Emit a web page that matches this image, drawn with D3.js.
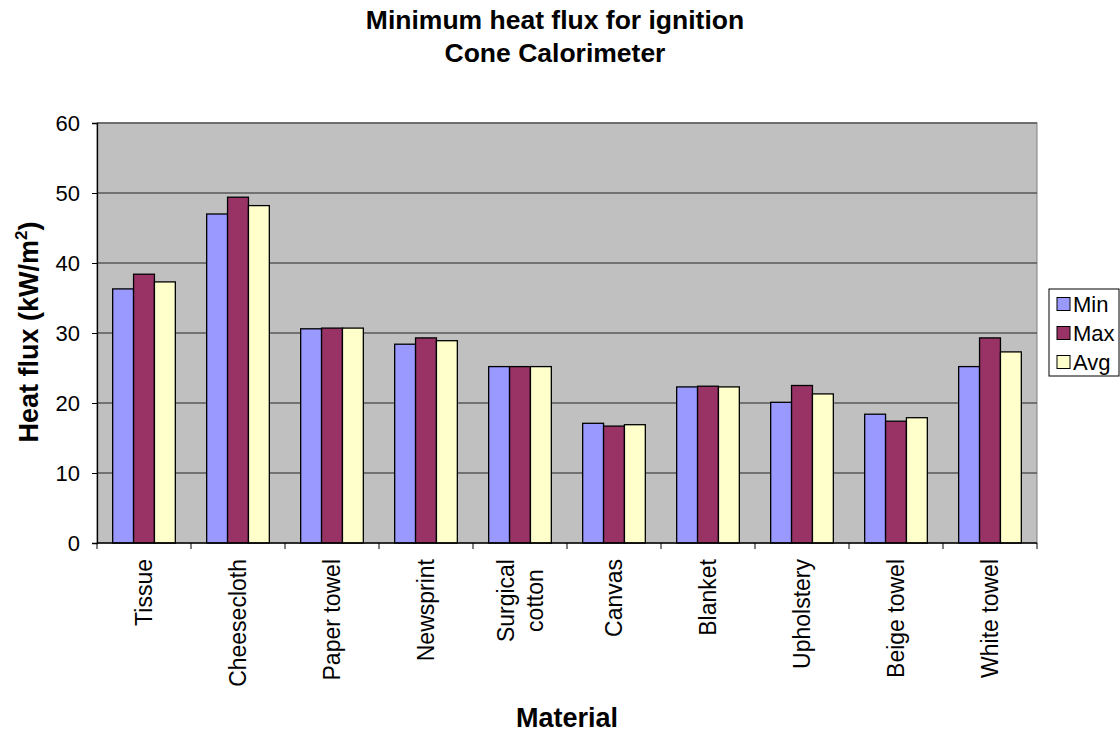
<!DOCTYPE html>
<html><head><meta charset="utf-8">
<script src="https://cdn.jsdelivr.net/npm/d3@7"></script>
<style>body{margin:0;background:#fff;} text{font-family:Arial,"Liberation Sans",sans-serif;}</style>
</head><body><svg id="c" width="1120" height="734"></svg>
<script>
const categories = ["Tissue","Cheesecloth","Paper towel","Newsprint","Surgical\ncotton","Canvas","Blanket","Upholstery","Beige towel","White towel"];
const seriesNames = ["Min","Max","Avg"];
const minVals = [36.3,47.0,30.6,28.4,25.2,17.1,22.3,20.1,18.4,25.2];
const maxVals = [38.4,49.4,30.7,29.3,25.2,16.7,22.4,22.5,17.4,29.3];
const avgVals = [37.3,48.2,30.7,28.9,25.2,16.9,22.3,21.3,17.9,27.3];
const yTicks = [0,10,20,30,40,50,60];
const colors = ["#9999FF","#993366","#FFFFCC"];
const series = [minVals,maxVals,avgVals];

const svg = d3.select("#c");
const L=97,R=1037,T=123,B=543;
const x = d3.scaleBand().domain(categories).range([L,R]);
const bw = x.bandwidth()/4.5;
const xs = d3.scaleBand().domain(seriesNames).range([0,3*bw]);
const y = d3.scaleLinear().domain([0,60]).range([B,T]);

svg.append("rect").attr("x",L).attr("y",T).attr("width",R-L).attr("height",B-T).attr("fill","#C0C0C0").attr("stroke","#808080").attr("stroke-width",1);
svg.append("g").selectAll("line").data(yTicks.slice(1)).join("line")
 .attr("x1",L).attr("x2",R).attr("y1",d=>y(d)).attr("y2",d=>y(d)).attr("stroke","#595959").attr("stroke-width",1.3);

categories.forEach((c,i)=>{
  series.forEach((s,j)=>{
    svg.append("rect").attr("x",x(c)+0.75*bw+xs(seriesNames[j])).attr("y",y(s[i])).attr("width",xs.bandwidth()).attr("height",y(0)-y(s[i]))
      .attr("fill",colors[j]).attr("stroke","#000").attr("stroke-width",1.3);
  });
});

// y axis
const ya = svg.append("g").attr("transform",`translate(${L},0)`).call(d3.axisLeft(y).tickValues(yTicks).tickSize(5).tickPadding(12));
ya.select(".domain").attr("stroke","#000").attr("stroke-width",1.3);
ya.selectAll("text").attr("font-size",22).attr("fill","#000").style("font-family","Arial,'Liberation Sans',sans-serif");
ya.selectAll(".tick line").attr("stroke","#000");
// x axis
svg.append("line").attr("x1",L).attr("x2",R).attr("y1",B).attr("y2",B).attr("stroke","#000").attr("stroke-width",1.3);
const bounds = categories.map(c=>x(c)).concat([R]);
svg.append("g").selectAll("line").data(bounds).join("line").attr("x1",d=>d).attr("x2",d=>d).attr("y1",B).attr("y2",B+6).attr("stroke","#000");
categories.forEach(c=>{
  const lines=c.split("\n");
  const cx=x(c)+x.bandwidth()/2;
  const g=svg.append("g").attr("transform",`translate(${cx},559) rotate(-90)`);
  const lh=29;
  const ts=lines.map((ln,k)=>g.append("text").attr("font-size",23).attr("text-anchor","middle")
      .attr("y",8+(k-(lines.length-1)/2)*lh).text(ln));
  const maxW=d3.max(ts,t=>t.node().getComputedTextLength());
  ts.forEach(t=>t.attr("x",-maxW/2));
});

svg.append("text").attr("x",555).attr("y",29).attr("text-anchor","middle").attr("font-size",26.5).attr("font-weight","bold").text("Minimum heat flux for ignition");
svg.append("text").attr("x",555).attr("y",62).attr("text-anchor","middle").attr("font-size",26.5).attr("font-weight","bold").text("Cone Calorimeter");
svg.append("text").attr("x",567).attr("y",727).attr("text-anchor","middle").attr("font-size",27).attr("font-weight","bold").text("Material");
const yt=svg.append("text").attr("transform","translate(38,332) rotate(-90)").attr("text-anchor","middle").attr("font-size",27).attr("font-weight","bold");
yt.append("tspan").text("Heat flux (kW/m");
yt.append("tspan").attr("font-size",17).attr("dy",-11).text("2");
yt.append("tspan").attr("dy",11).text(")");

// legend
const lg=svg.append("g");
lg.append("rect").attr("x",1049).attr("y",289).attr("width",70).attr("height",87).attr("fill","#fff").attr("stroke","#000").attr("stroke-width",1);
seriesNames.forEach((n,i)=>{
  const yy=304+i*29;
  lg.append("rect").attr("x",1057).attr("y",yy-6.5).attr("width",13).attr("height",13).attr("fill",colors[i]).attr("stroke","#000");
  lg.append("text").attr("x",1073).attr("y",yy+8).attr("font-size",22).text(n);
});
</script></body></html>
